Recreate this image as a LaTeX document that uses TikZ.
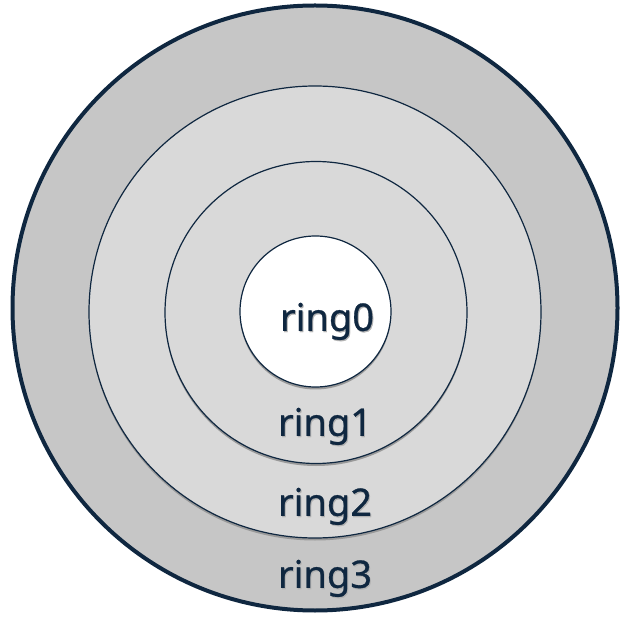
\documentclass[tikz,border=0pt]{standalone}
\usepackage{fontspec}
\setmainfont{Noto Sans}
\newfontface\lblfont{Noto Sans}[FakeBold=0.7]
\newcommand{\shtext}[1]{\rlap{\hspace{1pt}\raisebox{-1.2pt}{\textcolor{black!30}{#1}}}#1}
\begin{document}
\begin{tikzpicture}[x=1pt,y=-1pt,
  ringline/.style={draw=ringblue,line width=1.2pt},
  shadowring/.style={fill=black!40},
  lbl/.style={text=ringblue,font=\lblfont\fontsize{38}{44}\selectfont,inner sep=0pt}]
\definecolor{ringblue}{HTML}{0F2740}
\definecolor{outerfill}{HTML}{C6C6C6}
\definecolor{innerfill}{HTML}{D9D9D9}
\useasboundingbox (0,0) rectangle (621,617);
\fill[white] (0,0) rectangle (621,617);
% outer ring3
\path[fill=outerfill,draw=ringblue,line width=4pt] (315,308) circle (302.5);
\node[circle,minimum size=605pt,inner sep=0pt] (r3) at (315,308) {};
% ring2
\path[shadowring] (315,314.5) circle (226);
\path[fill=innerfill,ringline] (315,312) circle (226);
\node[circle,minimum size=452pt,inner sep=0pt] (r2) at (315,312) {};
% ring1
\path[shadowring] (316,315) circle (151);
\path[fill=innerfill,ringline] (316,312.5) circle (151);
\node[circle,minimum size=302pt,inner sep=0pt] (r1) at (316,312.5) {};
% ring0
\path[shadowring] (315.5,314) circle (75.5);
\path[fill=white,ringline] (315.5,311.5) circle (75.5);
\node[circle,minimum size=151pt,inner sep=0pt] (r0) at (315.5,311.5) {};
% labels
\node[lbl] (l0) at (327,322) {\shtext{ring0}};
\node[lbl] (l1) at (325,427) {\shtext{ring1}};
\node[lbl] (l2) at (325,507) {\shtext{ring2}};
\node[lbl] (l3) at (325,579) {\shtext{ring3}};
\end{tikzpicture}
\end{document}
